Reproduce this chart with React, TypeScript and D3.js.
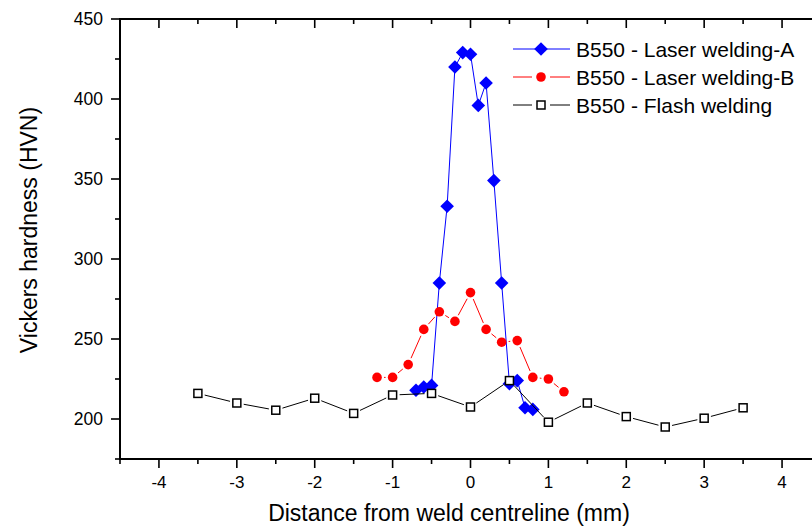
import * as d3 from "d3";

const WIDTH = 812;
const HEIGHT = 526;
const PLOT = { left: 120, top: 19, right: 821, bottom: 459 };
const FONT = "'Liberation Sans', Arial, sans-serif";

// Laser welding-A (blue diamonds)
const distA = [-0.7, -0.6, -0.5, -0.4, -0.3, -0.2, -0.1, 0, 0.1, 0.2, 0.3, 0.4, 0.5, 0.6, 0.7, 0.8];
const hvA = [218, 220, 221, 285, 333, 420, 429, 428, 396, 410, 349, 285, 222, 224, 207, 206];

// Laser welding-B (red circles)
const distB = [-1.2, -1.0, -0.8, -0.6, -0.4, -0.2, 0, 0.2, 0.4, 0.6, 0.8, 1.0, 1.2];
const hvB = [226, 226, 234, 256, 267, 261, 279, 256, 248, 249, 226, 225, 217];

// Flash welding (open squares)
const distC = [-3.5, -3, -2.5, -2, -1.5, -1, -0.5, 0, 0.5, 1, 1.5, 2, 2.5, 3, 3.5];
const hvC = [216, 210, 205.5, 213, 203.5, 215, 216, 207.5, 224, 198, 210, 201.5, 195, 200.5, 207];

const xTicks = [-4, -3, -2, -1, 0, 1, 2, 3, 4];
const yTicks = [200, 250, 300, 350, 400, 450];

const seriesNames = ["B550 - Laser welding-A", "B550 - Laser welding-B", "B550 - Flash welding"];

const xScale = d3.scaleLinear().domain([-4.5, 4.5]).range([PLOT.left, PLOT.right]);
const yScale = d3.scaleLinear().domain([175, 450]).range([PLOT.bottom, PLOT.top]);

type Pt = [number, number];

// origin-style lines: each segment stops short of the symbols
function gappedSegments(pts: Pt[], gap: number) {
  const segs: string[] = [];
  for (let i = 0; i < pts.length - 1; i++) {
    const [x1, y1] = pts[i];
    const [x2, y2] = pts[i + 1];
    const len = Math.hypot(x2 - x1, y2 - y1);
    if (len <= gap * 2) continue;
    const ux = (x2 - x1) / len;
    const uy = (y2 - y1) / len;
    segs.push(`M${x1 + ux * gap},${y1 + uy * gap}L${x2 - ux * gap},${y2 - uy * gap}`);
  }
  return segs.join("");
}

const diamond = (x: number, y: number, r: number) => `M${x},${y - r}L${x + r},${y}L${x},${y + r}L${x - r},${y}Z`;

function Marker({ kind, x, y }: { kind: number; x: number; y: number }) {
  if (kind === 0) return <path d={diamond(x, y, 6.8)} fill="#0000ff" />;
  if (kind === 1) return <circle cx={x} cy={y} r={4.8} fill="#ff0000" />;
  return <rect x={x - 4} y={y - 4} width={8} height={8} fill="white" stroke="black" strokeWidth={1.5} />;
}

export default function App() {
  const series = [
    { pts: distA.map((d, i) => [xScale(d), yScale(hvA[i])] as Pt), color: "#0000ff", gap: 3 },
    { pts: distB.map((d, i) => [xScale(d), yScale(hvB[i])] as Pt), color: "#ff0000", gap: 7 },
    { pts: distC.map((d, i) => [xScale(d), yScale(hvC[i])] as Pt), color: "#000000", gap: 7 },
  ];

  const xMinor = d3.range(-4.5, 4.51, 0.5);
  const yMinor = d3.range(175, 451, 25);

  return (
    <svg
      width={WIDTH}
      height={HEIGHT}
      style={{ position: "absolute", left: 0, top: 0, background: "white" }}
      fontFamily={FONT}
    >
      {/* data */}
      {series.map((s, k) => (
        <g key={k}>
          <path d={gappedSegments(s.pts, s.gap)} stroke={s.color} strokeWidth={1} fill="none" />
          {s.pts.map(([x, y], i) => (
            <Marker key={i} kind={k} x={x} y={y} />
          ))}
        </g>
      ))}

      {/* ticks */}
      <g stroke="black" strokeWidth={1.6}>
        {xMinor.map((v) => {
          const major = Number.isInteger(v);
          const len = major ? 9 : 5;
          const x = xScale(v);
          return (
            <g key={v}>
              <line x1={x} x2={x} y1={PLOT.bottom} y2={PLOT.bottom + len} />
              <line x1={x} x2={x} y1={PLOT.top} y2={PLOT.top + len} />
            </g>
          );
        })}
        {yMinor.map((v) => {
          const major = v % 50 === 0;
          const len = major ? 9 : 5;
          const y = yScale(v);
          return (
            <g key={v}>
              <line x1={PLOT.left - len} x2={PLOT.left} y1={y} y2={y} />
              <line x1={PLOT.right - len} x2={PLOT.right} y1={y} y2={y} />
            </g>
          );
        })}
      </g>

      {/* frame */}
      <rect
        x={PLOT.left}
        y={PLOT.top}
        width={PLOT.right - PLOT.left}
        height={PLOT.bottom - PLOT.top}
        fill="none"
        stroke="black"
        strokeWidth={2}
      />

      {/* tick labels */}
      {xTicks.map((v) => (
        <text key={v} x={xScale(v)} y={488} fontSize={17} textAnchor="middle">
          {v}
        </text>
      ))}
      {yTicks.map((v) => (
        <text key={v} x={103} y={yScale(v) + 6} fontSize={17.5} textAnchor="end">
          {v}
        </text>
      ))}

      {/* axis titles */}
      <text x={449} y={521} fontSize={23} textAnchor="middle">
        Distance from weld centreline (mm)
      </text>
      <text transform="translate(37,230) rotate(-90)" fontSize={23} textAnchor="middle">
        Vickers hardness (HVN)
      </text>

      {/* legend */}
      {seriesNames.map((name, i) => {
        const y = 49 + i * 28;
        const color = series[i].color;
        return (
          <g key={name}>
            {i === 0 ? (
              <line x1={513} x2={570} y1={y} y2={y} stroke={color} strokeWidth={1} />
            ) : (
              <>
                <line x1={513} x2={532} y1={y} y2={y} stroke={color} strokeWidth={1} />
                <line x1={550} x2={570} y1={y} y2={y} stroke={color} strokeWidth={1} />
              </>
            )}
            <Marker kind={i} x={541} y={y} />
            <text x={576} y={y + 7.5} fontSize={21}>
              {name}
            </text>
          </g>
        );
      })}
    </svg>
  );
}
